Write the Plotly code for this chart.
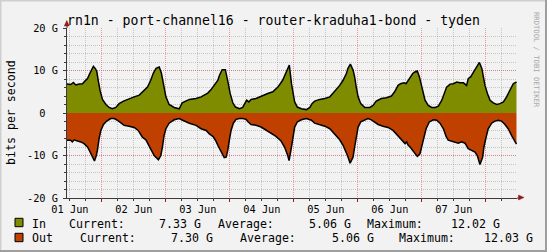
import plotly.graph_objects as go

# ---------------- data (hours since 01 Jun 00:00, Gbit/s) ----------------
time_in = [-1.1, 0.3, 1.3, 2.2, 3.45, 4.7, 5.6, 6.6, 7.3, 8.1, 8.8, 9.6, 10.1, 10.6, 11.3, 12.2, 13.5, 14.7,
           15.9, 17.2, 18.45, 20.1, 22.2, 24.1, 26.0, 27.6, 29.1, 30.3, 31.3, 32.3, 33.5, 34.3, 35.1, 36.0,
           37.2, 39.1, 41.0, 42.1, 44.8, 47.3, 49.2, 51.7, 52.95, 54.2, 55.5, 56.1, 57.1, 58.3, 58.8, 59.4,
           60.1, 61.1, 62.1, 63.6, 64.8, 66.3, 67.1, 67.95, 69.8, 71.7, 74.2, 76.1, 78.0, 79.8, 81.5, 82.3,
           83.1, 83.7, 84.3, 85.3, 86.8, 88.7, 90.0, 90.8, 91.8, 93.7, 95.6, 97.5, 98.7, 99.9, 101.2, 102.45,
           103.7, 104.3, 105.2, 106.2, 106.8, 107.4, 108.1, 109.1, 110.6, 112.5, 113.7, 114.9, 116.8, 118.7,
           120.6, 121.8, 123.1, 124.0, 125.3, 126.1, 126.9, 127.6, 128.6, 129.5, 130.3, 131.1, 131.7, 132.3,
           133.2, 134.4, 135.7, 137.0, 138.2, 139.5, 140.3, 141.3, 142.6, 143.8, 145.1, 146.3, 147.6, 148.8,
           149.4, 150.3, 151.1, 151.95, 152.8, 153.6, 154.5, 155.1, 155.7, 156.6, 157.6, 158.8, 160.1, 161.3,
           162.6, 163.8, 165.1, 166.3, 167.5]
bps_in = [6.8, 6.7, 7.2, 6.6, 6.8, 6.9, 7.5, 8.1, 9.1, 10.2, 11.0, 10.4, 9.7, 7.7, 5.3, 3.2, 2.0, 1.3,
          1.0, 1.3, 2.2, 2.8, 3.4, 3.8, 4.2, 5.2, 6.1, 7.7, 9.4, 10.5, 10.8, 9.4, 6.5, 3.8,
          2.0, 1.3, 1.0, 2.4, 3.2, 3.4, 3.8, 4.7, 5.5, 6.5, 7.7, 8.9, 10.2, 10.2, 8.9, 6.9,
          4.6, 2.4, 1.4, 1.0, 1.3, 3.0, 2.6, 3.2, 3.4, 4.0, 4.6, 5.0, 6.1, 7.7, 10.1, 11.3,
          6.9, 4.6, 2.6, 1.4, 1.0, 0.8, 1.3, 2.2, 2.8, 3.2, 3.4, 3.8, 4.6, 5.5, 6.5, 7.7,
          9.3, 10.5, 11.5, 10.1, 8.5, 6.1, 3.8, 2.2, 1.3, 1.3, 1.8, 2.8, 3.4, 3.6,
          4.0, 5.0, 6.5, 6.9, 7.1, 6.9, 7.7, 8.5, 9.3, 9.7, 9.9, 8.5, 6.9, 4.9,
          3.0, 1.8, 1.3, 1.3, 1.6, 3.0, 4.6, 6.1, 6.8, 6.9, 7.3, 7.1, 7.1, 6.5,
          8.1, 8.5, 9.3, 10.1, 10.9, 11.9, 10.5, 8.5, 6.5, 4.6, 3.0, 2.4, 2.0, 2.2,
          2.6, 3.8, 5.3, 6.9, 7.3]

time_out = [-1.1, 0.3, 0.9, 1.6, 2.8, 4.1, 5.3, 6.6, 7.6, 8.4, 9.2, 9.9, 10.3, 10.95, 11.6, 12.6, 13.8, 15.3,
            16.6, 17.8, 19.1, 20.3, 22.2, 24.1, 25.6, 27.2, 28.5, 29.7, 30.6, 31.6, 33.2, 34.1, 34.7, 35.3,
            36.0, 37.2, 39.1, 41.0, 42.3, 44.8, 47.3, 49.2, 51.1, 52.3, 53.6, 54.6, 55.5, 56.1, 57.1, 57.9,
            58.6, 59.2, 59.8, 60.45, 61.3, 62.3, 63.6, 64.8, 66.1, 66.7, 67.95, 69.8, 71.7, 73.6, 75.5, 77.3,
            79.2, 80.5, 81.7, 82.2, 83.1, 83.7, 84.3, 85.3, 86.8, 88.7, 90.6, 91.8, 93.7, 95.6, 97.5, 98.7,
            99.9, 101.2, 102.45, 103.3, 104.1, 105.1, 106.2, 106.8, 107.4, 108.1, 109.1, 110.6, 111.8, 113.1,
            114.3, 115.6, 117.45, 119.3, 121.2, 122.4, 123.7, 124.95, 125.7, 126.3, 126.9, 127.6, 128.6, 129.5,
            130.3, 131.3, 131.9, 132.6, 133.6, 134.8, 136.3, 137.6, 138.8, 140.1, 141.1, 141.9, 143.2, 144.4,
            145.7, 146.9, 148.2, 149.4, 150.7, 151.95, 152.8, 153.8, 154.8, 155.3, 156.1, 156.9, 158.2, 159.4,
            160.7, 161.9, 163.2, 164.4, 165.7, 166.95, 167.5]
bps_out = [-6.4, -6.4, -6.8, -6.3, -6.6, -6.8, -7.2, -8.0, -9.2, -10.4, -11.3, -10.0, -8.8, -6.0, -4.1, -2.7, -1.9, -1.3,
           -1.3, -1.7, -2.4, -2.9, -3.1, -3.4, -4.1, -5.7, -6.3, -7.6, -8.8, -10.0, -11.0, -10.0, -8.0, -5.3,
           -3.7, -2.4, -1.6, -1.3, -1.7, -2.4, -2.9, -3.7, -4.1, -4.9, -5.5, -6.4, -7.6, -8.4, -9.6, -10.5,
           -10.4, -8.8, -6.4, -4.1, -2.4, -1.5, -1.3, -1.3, -1.5, -2.0, -2.7, -2.9, -3.3, -4.1, -4.9, -5.5,
           -6.6, -8.0, -10.0, -11.2, -8.0, -5.3, -3.3, -2.1, -1.6, -1.3, -1.7, -2.4, -2.7, -3.1, -3.7, -4.5,
           -5.3, -6.3, -7.6, -8.8, -10.0, -11.8, -10.4, -8.0, -5.3, -3.3, -2.1, -1.6, -1.3, -1.6,
           -2.1, -2.7, -3.1, -3.4, -4.1, -4.9, -6.0, -6.8, -7.2, -6.8, -7.6, -8.0, -8.8, -9.6,
           -10.2, -9.6, -8.0, -5.7, -3.7, -2.1, -1.6, -1.7, -2.4, -3.7, -5.5, -6.4, -6.6, -6.8,
           -7.1, -6.8, -7.1, -8.4, -8.8, -9.2, -10.0, -12.1, -10.4, -8.0, -5.7, -3.7, -2.4, -1.9,
           -1.7, -1.9, -2.7, -3.7, -5.3, -6.8, -7.3]

day_ticks = [0, 24, 48, 72, 96, 120, 144]
day_labels = ["01 Jun", "02 Jun", "03 Jun", "04 Jun", "05 Jun", "06 Jun", "07 Jun"]
y_ticks = [-20, -10, 0, 10, 20]
y_labels = ["-20 G", "-10 G", "0\u00a0\u00a0", "10 G", "20 G"]

title = "rn1n - port-channel16 - router-kraduha1-bond - tyden"
legend_rows = [
    ("In", "#7F8C00", ["Current:", "7.33 G", "Average:", "5.06 G", "Maximum:", "12.02 G"]),
    ("Out", "#C04000", ["Current:", "7.30 G", "Average:", "5.06 G", "Maximum:", "12.03 G"]),
]

# ---------------- layout geometry (pixels) ----------------
W, H = 547, 252
L, R, T, B = 67, 30, 28, 54
PW, PH = W - L - R, H - T - B
X_RANGE = [-1.1, 167.7]
MONO = "DejaVu Sans Mono"
C_IN, C_OUT = legend_rows[0][1], legend_rows[1][1]
GRID = "rgba(143,143,143,0.45)"
MGRID = "rgba(222,80,80,0.55)"
AXIS = "#3a3a3a"
ARROW = "#8C1C1C"


def px(x):
    return (x - L) / PW


def py(y):
    return (H - B - y) / PH


fig = go.Figure()
fig.add_trace(go.Scatter(x=time_in, y=bps_in, mode="lines", fill="tozeroy", fillcolor=C_IN,
                         line=dict(color="black", width=1.5), hoverinfo="skip", showlegend=False))
fig.add_trace(go.Scatter(x=time_out, y=bps_out, mode="lines", fill="tozeroy", fillcolor=C_OUT,
                         line=dict(color="black", width=1.5), hoverinfo="skip", showlegend=False,
                         xaxis="x2"))

minor_x = [h for h in range(-6, 174, 6) if h % 24 not in (0, 12)]
noon_x = [h for h in range(12, 168, 24)]

shapes = []
# image border (3D look)
shapes.append(dict(type="rect", xref="paper", yref="paper", x0=px(0), x1=px(W), y0=py(H), y1=py(0),
                   line=dict(width=0), fillcolor="#F2F2F2", layer="below"))
shapes.append(dict(type="line", xref="paper", yref="paper", x0=px(0.5), x1=px(0.5), y0=py(0), y1=py(H),
                   line=dict(color="#CFCFCF", width=2)))
shapes.append(dict(type="line", xref="paper", yref="paper", x0=px(0), x1=px(W), y0=py(0.5), y1=py(0.5),
                   line=dict(color="#CFCFCF", width=2)))
shapes.append(dict(type="line", xref="paper", yref="paper", x0=px(W - 1), x1=px(W - 1), y0=py(0), y1=py(H),
                   line=dict(color="#9E9E9E", width=2)))
shapes.append(dict(type="line", xref="paper", yref="paper", x0=px(0), x1=px(W), y0=py(H - 1), y1=py(H - 1),
                   line=dict(color="#9E9E9E", width=2)))
# axis extensions and arrows
shapes.append(dict(type="line", xref="paper", yref="paper", x0=0, x1=0, y0=1, y1=py(24),
                   line=dict(color=AXIS, width=1)))
shapes.append(dict(type="path", xref="paper", yref="paper",
                   path=f"M {px(64.3)},{py(26)} L {px(69.3)},{py(26)} L {px(66.8)},{py(20.5)} Z",
                   fillcolor=ARROW, line=dict(color=ARROW, width=0.5)))
shapes.append(dict(type="line", xref="paper", yref="paper", x0=1, x1=px(519), y0=0, y1=0,
                   line=dict(color=ARROW, width=1)))
shapes.append(dict(type="path", xref="paper", yref="paper",
                   path=f"M {px(518.5)},{py(195)} L {px(518.5)},{py(200)} L {px(524)},{py(197.5)} Z",
                   fillcolor=ARROW, line=dict(color=ARROW, width=0.5)))

annotations = []
annotations.append(dict(text=title, xref="paper", yref="paper", x=px(65), y=py(20.4), xanchor="left",
                        yanchor="middle", showarrow=False, font=dict(family=MONO, size=13.2, color="black")))
annotations.append(dict(text="bits per second", xref="paper", yref="paper", x=px(10.5), y=py(112.5),
                        xanchor="center", yanchor="middle", textangle=-90, showarrow=False,
                        font=dict(family=MONO, size=11.6, color="black")))
annotations.append(dict(text="RRDTOOL / TOBI OETIKER", xref="paper", yref="paper", x=px(537), y=py(60),
                        xanchor="center", yanchor="middle", textangle=90, showarrow=False,
                        font=dict(family=MONO, size=7.2, color="#A8A8A8")))

row_x = [
    [30.2, 66.8, 156.8, 215.8, 306.8, 364.5, 448.8],
    [30.2, 77.8, 168.8, 237.8, 329.5, 397.2, 481.8],
]
row_cy = [224.3, 238.3]
row_box = [(218.3, 226.7), (233.3, 241.7)]
for (name, color, items), xs, cy, (b0, b1) in zip(legend_rows, row_x, row_cy, row_box):
    shapes.append(dict(type="rect", xref="paper", yref="paper", x0=px(15), x1=px(23), y0=py(b1), y1=py(b0),
                       fillcolor=color, line=dict(color="black", width=1)))
    for txt, x in zip([name] + items, xs):
        annotations.append(dict(text=txt, xref="paper", yref="paper", x=px(x), y=py(cy), xanchor="left",
                                yanchor="middle", showarrow=False,
                                font=dict(family=MONO, size=11.6, color="black")))

fig.update_layout(
    width=W, height=H, margin=dict(l=L, r=R, t=T, b=B, pad=0),
    paper_bgcolor="#F2F2F2", plot_bgcolor="white",
    showlegend=False, shapes=shapes, annotations=annotations,
    xaxis=dict(range=X_RANGE, tickmode="array", tickvals=day_ticks, ticktext=day_labels,
               showgrid=True, gridcolor=GRID, griddash="1px,1px", gridwidth=1,
               showline=True, linecolor=AXIS, linewidth=1, zeroline=False,
               ticks="outside", ticklen=2, tickcolor=AXIS,
               tickfont=dict(family=MONO, size=10.3, color="black"),
               minor=dict(tickmode="array", tickvals=minor_x, showgrid=True, gridcolor=GRID,
                          griddash="1px,1px", ticks="outside", ticklen=2, tickcolor=AXIS),
               fixedrange=True),
    xaxis2=dict(range=X_RANGE, overlaying="x", matches="x", side="bottom", tickmode="array",
                tickvals=noon_x, showticklabels=False, showgrid=True, gridcolor=MGRID,
                griddash="1px,1px", gridwidth=1, zeroline=False, showline=False,
                ticks="outside", ticklen=3, tickcolor=ARROW),
    yaxis=dict(range=[-20, 20], tickmode="array", tickvals=y_ticks, ticktext=y_labels,
               showgrid=True, gridcolor=MGRID, griddash="1px,1px", gridwidth=1,
               showline=True, linecolor=AXIS, linewidth=1, zeroline=False,
               ticks="outside", ticklen=3, tickcolor=AXIS, ticklabelstandoff=3,
               tickfont=dict(family=MONO, size=10.3, color="black"),
               minor=dict(dtick=2, tick0=0, showgrid=True, gridcolor=GRID, griddash="1px,1px",
                          ticks="outside", ticklen=2, tickcolor=AXIS),
               fixedrange=True),
)

fig.write_html("out.html")
